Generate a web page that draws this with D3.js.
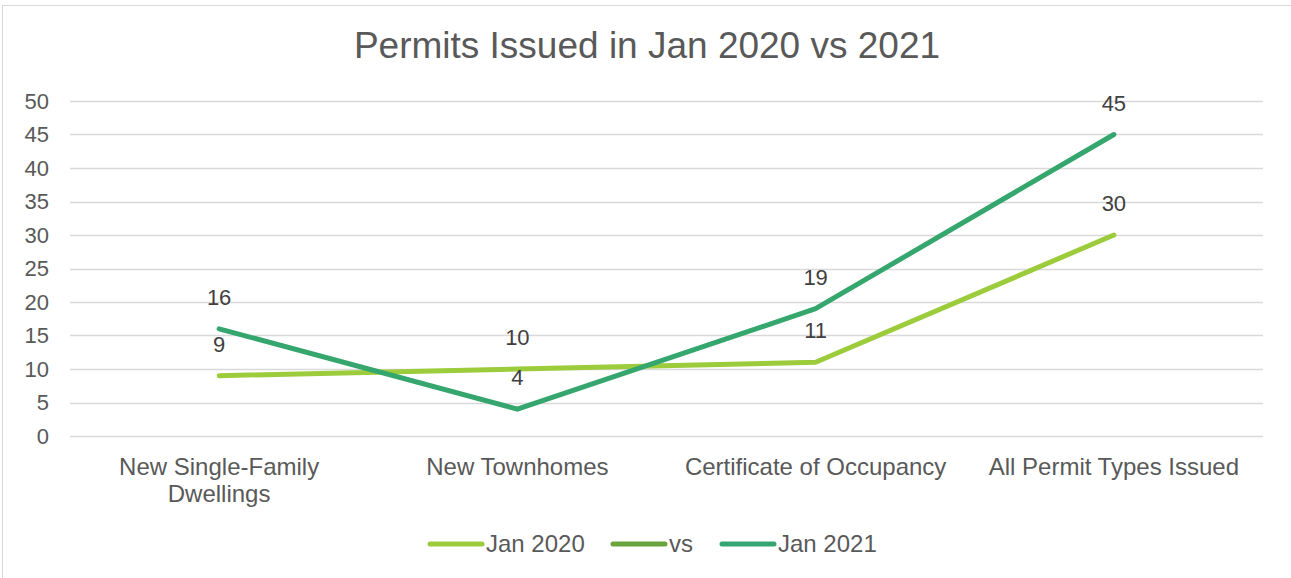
<!DOCTYPE html>
<html>
<head>
<meta charset="utf-8">
<script src="https://cdn.jsdelivr.net/npm/d3@7"></script>
<style>
  body { margin: 0; background: #fff; }
  text { font-family: Arial, "Liberation Sans", sans-serif; }
</style>
</head>
<body>
<svg width="1291" height="578"></svg>
<script>
const categories = [["New Single-Family", "Dwellings"], ["New Townhomes"], ["Certificate of Occupancy"], ["All Permit Types Issued"]]
const jan2020 = [9, 10, 11, 30]
const vsSeries = [null, null, null, null]
const jan2021 = [16, 4, 19, 45]
const yTicks = [0, 5, 10, 15, 20, 25, 30, 35, 40, 45, 50]
const seriesNames = ["Jan 2020", "vs", "Jan 2021"]

let svg = d3.select("svg"),
    margin = {top: 101, right: 28, bottom: 142, left: 70},
    width = +svg.attr("width") - margin.left - margin.right,
    height = +svg.attr("height") - margin.top - margin.bottom

const colors = ["#9ccb3b", "#68a53a", "#35a66d"]
const series = [jan2020, vsSeries, jan2021]

// chart border
svg.append("rect")
    .attr("x", 2.5).attr("y", 5.5)
    .attr("width", 1300).attr("height", 600)
    .attr("fill", "none")
    .attr("stroke", "#d9d9d9")
    .attr("stroke-width", 1)

svg.append("text")
    .attr("x", 647).attr("y", 58)
    .attr("text-anchor", "middle")
    .style("font-size", "37px")
    .style("fill", "#595959")
    .text("Permits Issued in Jan 2020 vs 2021")

let g = svg.append("g").attr("transform", `translate(${margin.left},${margin.top})`)

let x = d3.scaleBand()
    .domain(d3.range(categories.length))
    .range([0, width])

let y = d3.scaleLinear()
    .domain([0, 50])
    .range([height, 0])

// gridlines
g.selectAll(".grid")
    .data(yTicks)
    .enter()
    .append("line")
    .attr("x1", 0).attr("x2", width)
    .attr("y1", d => Math.round(y(d)) + 0.5)
    .attr("y2", d => Math.round(y(d)) + 0.5)
    .attr("stroke", "#d9d9d9")
    .attr("stroke-width", 1.5)

// y labels
g.selectAll(".ylab")
    .data(yTicks)
    .enter()
    .append("text")
    .attr("x", -21)
    .attr("y", d => y(d))
    .attr("dy", "0.35em")
    .attr("text-anchor", "end")
    .style("font-size", "22px")
    .style("fill", "#595959")
    .text(d => d)

// category labels
let cat = g.selectAll(".cat")
    .data(categories)
    .enter()
    .append("text")
    .attr("text-anchor", "middle")
    .style("font-size", "24px")
    .style("fill", "#595959")
cat.each(function (d, i) {
    d3.select(this).selectAll("tspan")
        .data(d)
        .enter()
        .append("tspan")
        .attr("x", x(i) + x.bandwidth() / 2)
        .attr("y", (t, j) => height + 39 + j * 27)
        .text(t => t)
})

let line = d3.line()
    .defined(d => d != null)
    .x((d, i) => x(i) + x.bandwidth() / 2)
    .y(d => y(d))

series.forEach(function (s, k) {
    g.append("path")
        .datum(s)
        .attr("d", line)
        .attr("fill", "none")
        .attr("stroke", colors[k])
        .attr("stroke-width", 5)
        .attr("stroke-linejoin", "round")
        .attr("stroke-linecap", "round")
})

// data labels
series.forEach(function (s, k) {
    g.selectAll(".lab" + k)
        .data(s.map((v, i) => ({v: v, i: i})).filter(d => d.v != null))
        .enter()
        .append("text")
        .attr("x", d => x(d.i) + x.bandwidth() / 2)
        .attr("y", d => y(d.v) - 24)
        .attr("text-anchor", "middle")
        .style("font-size", "22px")
        .style("fill", "#404040")
        .text(d => d.v)
})

// legend
const legendX = [428, 611, 720]
seriesNames.forEach(function (name, k) {
    svg.append("line")
        .attr("x1", legendX[k] + 2).attr("x2", legendX[k] + 54)
        .attr("y1", 544).attr("y2", 544)
        .attr("stroke", colors[k])
        .attr("stroke-width", 5)
        .attr("stroke-linecap", "round")
    svg.append("text")
        .attr("x", legendX[k] + 58)
        .attr("y", 544)
        .attr("dy", "0.35em")
        .style("font-size", "24px")
        .style("fill", "#595959")
        .text(name)
})
</script>
</body>
</html>
